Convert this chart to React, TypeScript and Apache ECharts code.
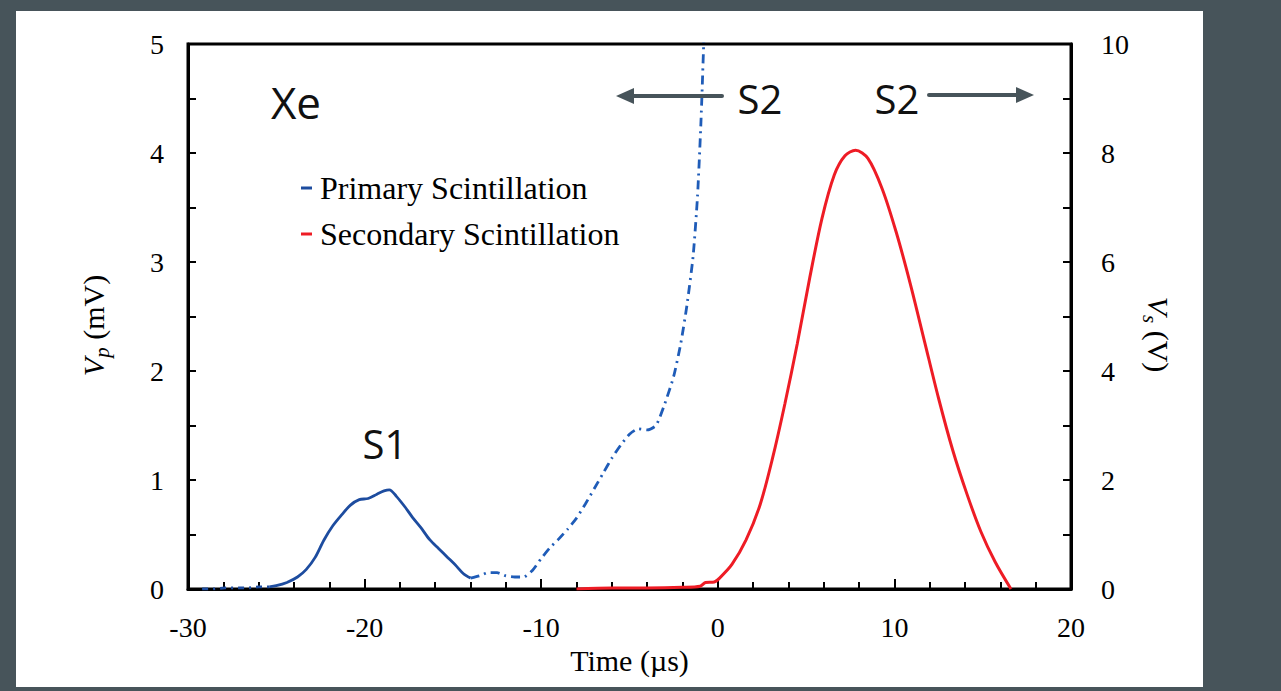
import React, { useEffect, useRef } from 'react';
import * as echarts from 'echarts';

// ---- data ----
const primaryTailT = [-29.2, -28.6, -27.9, -27.2, -26.6, -26.0, -25.4];
const primaryTailV = [0.0, 0.0, 0.01, 0.01, 0.01, 0.02, 0.02];

const primaryS1T = [-25.4, -25.0, -24.4, -23.8, -23.3, -22.8, -22.3, -21.8, -21.3, -20.8, -20.3, -19.8, -19.3, -18.9, -18.6, -18.2, -17.7, -17.3, -16.8, -16.3, -15.8, -15.3, -14.8, -14.4, -14.0];
const primaryS1V = [0.02, 0.03, 0.06, 0.11, 0.18, 0.29, 0.45, 0.58, 0.68, 0.77, 0.82, 0.83, 0.87, 0.9, 0.91, 0.85, 0.75, 0.66, 0.56, 0.45, 0.37, 0.29, 0.21, 0.14, 0.1];

const primaryRiseT = [-14.0, -13.5, -13.0, -12.5, -12.0, -11.5, -11.0, -10.5, -10.0, -9.5, -9.0, -8.5, -8.0, -7.5, -7.0, -6.5, -6.0, -5.5, -5.0, -4.5, -4.0, -3.5, -3.0, -2.5, -2.1, -1.75, -1.4, -1.15, -0.95, -0.8, -0.72];
const primaryRiseV = [0.1, 0.12, 0.15, 0.15, 0.12, 0.11, 0.11, 0.17, 0.28, 0.38, 0.46, 0.55, 0.65, 0.78, 0.92, 1.06, 1.2, 1.32, 1.42, 1.47, 1.46, 1.5, 1.7, 1.95, 2.25, 2.6, 3.05, 3.6, 4.3, 5.0, 5.5];

const secondaryT = [-8.0, -6.0, -4.0, -2.0, -1.0, -0.7, -0.2, 0.1, 0.8, 1.6, 2.4, 3.1, 3.8, 4.5, 5.2, 5.9, 6.6, 7.2, 7.8, 8.5, 9.3, 10.1, 10.9, 11.7, 12.5, 13.3, 14.1, 14.9, 15.7, 16.6];
const secondaryV = [0.0, 0.02, 0.02, 0.03, 0.05, 0.12, 0.13, 0.2, 0.45, 0.9, 1.55, 2.4, 3.4, 4.5, 5.7, 6.8, 7.6, 7.95, 8.05, 7.9, 7.35, 6.55, 5.6, 4.55, 3.5, 2.55, 1.75, 1.05, 0.5, 0.0];

const legendNames = ['Primary Scintillation', 'Secondary Scintillation'];
const xAxisName = 'Time (µs)';

const pairs = (t: number[], v: number[]) => t.map((x, i) => [x, v[i]]);

const SERIF = "'Liberation Serif', 'Times New Roman', serif";
const SANS = "'Open Sans', 'Noto Sans', sans-serif";
const SLATE = '#47545a';
const BLUE = '#1d4c9f';
const BLUE2 = '#1f5cb8';
const RED = '#ee1c25';

export default function App() {
  const ref = useRef<HTMLDivElement>(null);
  useEffect(() => {
    if (!ref.current) return;
    const chart = echarts.init(ref.current, undefined, { renderer: 'svg' });
    const tickStyle = { color: '#000', width: 2 };
    const labelStyle = { fontFamily: SERIF, fontSize: 28, color: '#000' };
    const richName = {
      i: { fontFamily: SERIF, fontSize: 30, fontStyle: 'italic', color: '#000', lineHeight: 38, verticalAlign: 'middle' },
      s: { fontFamily: SERIF, fontSize: 21, fontStyle: 'italic', color: '#000', lineHeight: 20, verticalAlign: 'bottom' },
      n: { fontFamily: SERIF, fontSize: 30, color: '#000', lineHeight: 38, verticalAlign: 'middle' },
    };
    const option: any = {
      animation: false,
      grid: {
        left: 188, right: 210, top: 44, bottom: 102,
        show: true, borderColor: '#000', borderWidth: 3, backgroundColor: 'transparent',
      },
      xAxis: {
        type: 'value', min: -30, max: 20, interval: 10,
        name: xAxisName, nameLocation: 'middle', nameGap: 55,
        nameTextStyle: { fontFamily: SERIF, fontSize: 30, color: '#000' },
        axisLine: { show: true, onZero: false, lineStyle: { color: '#000', width: 3 } },
        axisTick: { show: true, inside: true, length: 10, lineStyle: tickStyle },
        minorTick: { show: true, splitNumber: 5, length: 7, lineStyle: tickStyle },
        axisLabel: { ...labelStyle, margin: 24 },
        splitLine: { show: false },
      },
      yAxis: [
        {
          type: 'value', min: 0, max: 5, interval: 1, position: 'left',
          name: '{i|V}{s|p}{n| (mV)}', nameLocation: 'middle', nameGap: 76,
          nameTextStyle: { rich: richName, padding: [0, 18, 0, 0] },
          axisLine: { show: true, onZero: false, lineStyle: { color: '#000', width: 3 } },
          axisTick: { show: true, inside: true, length: 8, lineStyle: tickStyle },
          minorTick: { show: true, splitNumber: 2, length: 8, lineStyle: tickStyle },
          axisLabel: { ...labelStyle, margin: 24 },
          splitLine: { show: false },
        },
        {
          type: 'value', min: 0, max: 10, interval: 2, position: 'right',
          name: '{i|V}{s|s}{n| (V)}', nameLocation: 'middle', nameGap: 66, nameRotate: -90,
          nameTextStyle: { rich: richName, padding: [0, 0, 0, 36] },
          axisLine: { show: true, onZero: false, lineStyle: { color: '#000', width: 3 } },
          axisTick: { show: true, inside: true, length: 8, lineStyle: tickStyle },
          minorTick: { show: true, splitNumber: 2, length: 8, lineStyle: tickStyle },
          axisLabel: { ...labelStyle, margin: 30 },
          splitLine: { show: false },
        },
      ],
      legend: {
        orient: 'vertical', left: 296, top: 167, itemWidth: 11, itemHeight: 3, itemGap: 14,
        icon: 'rect', data: legendNames,
        textStyle: { fontFamily: SERIF, fontSize: 32, color: '#000', padding: [0, 0, 0, 3] },
      },
      series: [
        {
          name: legendNames[0], type: 'line', yAxisIndex: 0, showSymbol: false, smooth: 0.3,
          data: pairs(primaryS1T, primaryS1V), color: BLUE,
          lineStyle: { color: BLUE, width: 2.8 },
        },
        {
          name: legendNames[0], type: 'line', yAxisIndex: 0, showSymbol: false,
          data: pairs(primaryTailT, primaryTailV), color: BLUE,
          lineStyle: { color: BLUE, width: 2.8, type: [6, 5, 2, 5] },
        },
        {
          name: legendNames[0], type: 'line', yAxisIndex: 0, showSymbol: false, clip: true, smooth: 0.2,
          data: pairs(primaryRiseT, primaryRiseV), color: BLUE,
          lineStyle: { color: BLUE2, width: 2.8, type: [9, 5, 2, 5] },
        },
        {
          name: legendNames[1], type: 'line', yAxisIndex: 1, showSymbol: false, smooth: 0.3,
          data: pairs(secondaryT, secondaryV), color: RED,
          lineStyle: { color: RED, width: 3 },
        },
      ],
      graphic: [
        { type: 'text', x: 296, y: 102, z: 100, style: { text: 'Xe', fontFamily: SANS, fontSize: 44, fill: '#111', align: 'center', verticalAlign: 'middle', textAlign: 'center', textVerticalAlign: 'middle' } },
        { type: 'text', x: 385, y: 443, z: 100, style: { text: 'S1', fontFamily: SANS, fontSize: 40, fill: '#111', align: 'center', verticalAlign: 'middle', textAlign: 'center', textVerticalAlign: 'middle' } },
        { type: 'text', x: 760, y: 98, z: 100, style: { text: 'S2', fontFamily: SANS, fontSize: 40, fill: '#111', align: 'center', verticalAlign: 'middle', textAlign: 'center', textVerticalAlign: 'middle' } },
        { type: 'text', x: 897, y: 98, z: 100, style: { text: 'S2', fontFamily: SANS, fontSize: 40, fill: '#111', align: 'center', verticalAlign: 'middle', textAlign: 'center', textVerticalAlign: 'middle' } },
        { type: 'line', z: 100, shape: { x1: 722, y1: 96, x2: 630, y2: 96 }, style: { stroke: SLATE, lineWidth: 4, lineCap: 'round' } },
        { type: 'polygon', z: 100, shape: { points: [[616, 96], [634, 88], [634, 104]] }, style: { fill: SLATE } },
        { type: 'line', z: 100, shape: { x1: 929, y1: 95, x2: 1020, y2: 95 }, style: { stroke: SLATE, lineWidth: 4, lineCap: 'round' } },
        { type: 'polygon', z: 100, shape: { points: [[1034, 95], [1016, 87], [1016, 103]] }, style: { fill: SLATE } },
      ],
    };
    chart.setOption(option);
    return () => chart.dispose();
  }, []);

  return (
    <div style={{ position: 'fixed', left: 0, top: 0, width: 1281, height: 691, background: SLATE, overflow: 'hidden' }}>
      <div style={{ position: 'absolute', left: 16, top: 11, width: 1187, height: 676, background: '#fff' }} />
      <div ref={ref} style={{ position: 'absolute', left: 0, top: 0, width: 1281, height: 691 }} />
    </div>
  );
}
